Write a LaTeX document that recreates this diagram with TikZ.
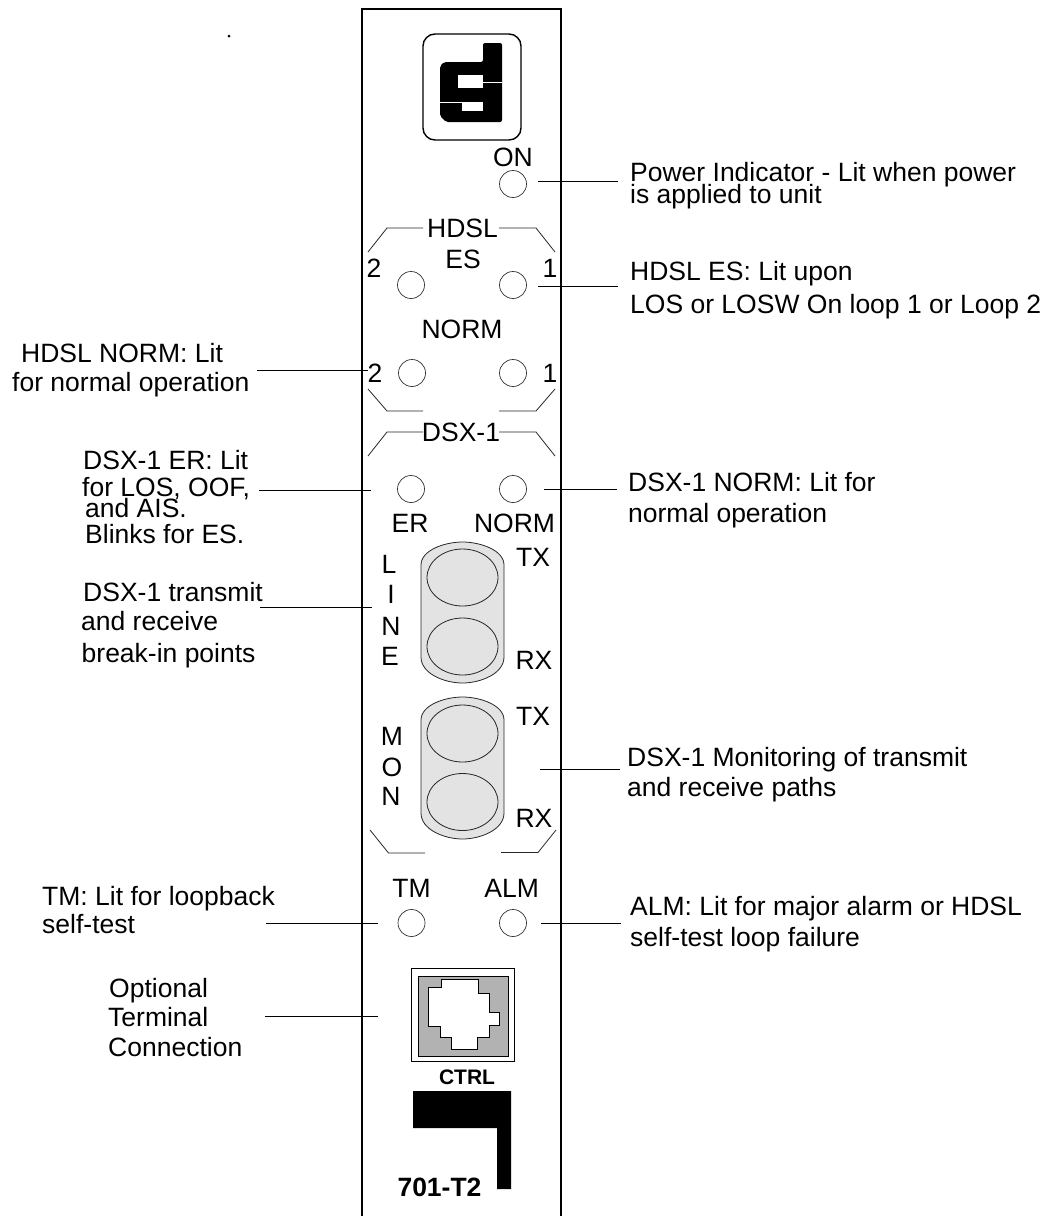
\documentclass[tikz,border=0pt]{standalone}
\usepackage{fontspec}
\setmainfont{Liberation Sans}
\usetikzlibrary{shapes.geometric}
\definecolor{jackfill}{gray}{0.89}
\definecolor{portfill}{gray}{0.7}
\tikzset{
  lbl/.style={inner sep=0pt,anchor=base west,font=\fontsize{26.5}{26.5}\selectfont},
  plab/.style={inner sep=0pt,anchor=base,font=\fontsize{26.5}{26.5}\selectfont},
  led/.style={circle,draw=black!80,line width=0.7pt,minimum size=27pt,inner sep=0pt},
  jackhole/.style={ellipse,draw=black!85,line width=0.8pt,fill=jackfill,minimum width=71pt,minimum height=57pt,inner sep=0pt},
  jackbody/.style={line width=0.8pt,draw=black!85,fill=jackfill},
  lead/.style={line width=1pt,black},
  brk/.style={line width=0.8pt,black!85},
  panel/.style={line width=1.2pt,black}
}
\begin{document}
\begin{tikzpicture}[x=1pt,y=-1pt]
\useasboundingbox (0,0) rectangle (1048,1216);
\fill[black] (229,36) circle (1.5pt);
\draw[panel] (362,1216) -- (362,9) -- (561,9) -- (561,1216);
% logo
\draw[line width=1.4pt,rounded corners=12pt] (423,34) rectangle (521,140);
\fill[black,rounded corners=2pt] (483,43) -- (502,43) -- (502,122) -- (446,122) -- (440,116) -- (440,66) -- (444,62) -- (483,62) -- cycle;
\fill[white] (458,75) rectangle (483,88);
\fill[white] (483,81.5) rectangle (502,82.5);
\fill[white] (462,102) rectangle (483,111);
\fill[white] (440,101.8) rectangle (462,103);
% LEDs
\node[led] (on) at (513,184) {};
\node[led] (es2) at (411,285) {};
\node[led] (es1) at (513,285) {};
\node[led] (n2) at (412,373) {};
\node[led] (n1) at (513,373) {};
\node[led] (der) at (411,489) {};
\node[led] (dn) at (513,489) {};
\node[led] (tm) at (411.5,923) {};
\node[led] (alm) at (513,923) {};
% jacks
\draw[jackbody] (421,565) .. controls (421,550) and (445,542) .. (462.5,542) .. controls (480,542) and (504,550) .. (504,565) -- (504,657) .. controls (504,674) and (480,683) .. (462.5,683) .. controls (445,683) and (421,674) .. (421,657) -- cycle;
\node[jackhole] (lt) at (462.5,577.5) {};
\node[jackhole] (lr) at (462.5,646.5) {};
\draw[jackbody] (421,720) .. controls (421,705) and (445,697) .. (462.5,697) .. controls (480,697) and (504,705) .. (504,720) -- (504,813) .. controls (504,830) and (480,839) .. (462.5,839) .. controls (445,839) and (421,830) .. (421,813) -- cycle;
\node[jackhole] (mt) at (462.5,733.5) {};
\node[jackhole] (mr) at (462.5,802) {};
% panel labels
\node[plab] (pon) at (513,166) {ON};
\node[plab] (phd) at (462.5,237) {HDSL};
\node[plab] (pes) at (463,268) {ES};
\node[plab] (p2a) at (374,277) {2};
\node[plab] (p1a) at (550,277) {1};
\node[plab] (pno) at (462,338) {NORM};
\node[plab] (p2b) at (375,382) {2};
\node[plab] (p1b) at (550,382) {1};
\node[plab] (pds) at (461,441) {DSX-1};
\node[plab] (per) at (410,532) {ER};
\node[plab] (pnn) at (514.5,532) {NORM};
\node[plab] (pL) at (389,573) {L};
\node[plab] (pI) at (391,603) {I};
\node[plab] (pN) at (391,635) {N};
\node[plab] (pE) at (390,665) {E};
\node[plab] (ptx1) at (533,566) {TX};
\node[plab] (prx1) at (534,669) {RX};
\node[plab] (pM) at (392,745) {M};
\node[plab] (pO) at (392,776) {O};
\node[plab] (pNb) at (391,805) {N};
\node[plab] (ptx2) at (533,725) {TX};
\node[plab] (prx2) at (534,827) {RX};
\node[plab] (ptm) at (411.5,897) {TM};
\node[plab] (pal) at (511.7,897) {ALM};
% brackets
\draw[brk] (368,252) -- (387,228) -- (423,228);
\draw[brk] (499,228) -- (536,228) -- (555,252);
\draw[brk] (368,389) -- (387,411) -- (423,411);
\draw[brk] (499,411) -- (536,411) -- (555,389);
\draw[brk] (368,456) -- (387,432) -- (423,432);
\draw[brk] (499,432) -- (536,432) -- (555,456);
\draw[brk] (370,830) -- (388.5,853) -- (425,853);
\draw[brk] (501,852.5) -- (538,852.5) -- (556,830);
% port
\draw[line width=1pt] (411,968) rectangle (514,1061);
\draw[line width=0.8pt,fill=portfill] (418,976) rectangle (508,1056);
\draw[line width=0.9pt,fill=white] (428,987) -- (441,987) -- (441,979) -- (478,979) -- (478,993) -- (489,993) -- (489,1012) -- (499,1012) -- (499,1025) -- (489,1025) -- (489,1037) -- (477,1037) -- (477,1049) -- (451,1049) -- (451,1037) -- (440,1037) -- (440,1026) -- (428,1026) -- cycle;
\node[inner sep=0pt,anchor=base,font=\bfseries\fontsize{21}{21}\selectfont] (ctrl) at (467,1084) {CTRL};
\fill[black] (413,1091) -- (511,1091) -- (511,1189) -- (497,1189) -- (497,1128) -- (413,1128) -- cycle;
\node[inner sep=0pt,anchor=base,font=\bfseries\fontsize{26.5}{26.5}\selectfont] (model) at (439.5,1196) {701-T2};
% callouts
\coordinate (c1) at (538,181);
\coordinate (c1e) at (618,181);
\draw[lead] (c1) -- (c1e);
\node[lbl] (t1a) at (630,181) {Power Indicator - Lit when power};
\node[lbl] (t1b) at (630,203) {is applied to unit};
\coordinate (c2) at (538,286);
\coordinate (c2e) at (618,286);
\draw[lead] (c2) -- (c2e);
\node[lbl] (t2a) at (630,280) {HDSL ES: Lit upon};
\node[lbl] (t2b) at (630,313) {LOS or LOSW On loop 1 or Loop 2};
\coordinate (c3) at (257,370);
\coordinate (c3e) at (368,370);
\draw[lead] (c3) -- (c3e);
\node[lbl] (t3a) at (21,362) {HDSL NORM: Lit};
\node[lbl] (t3b) at (12,391) {for normal operation};
\coordinate (c4) at (259,490);
\coordinate (c4e) at (371,490);
\draw[lead] (c4) -- (c4e);
\node[lbl] (t4a) at (83,469) {DSX-1 ER: Lit};
\node[lbl] (t4b) at (82,496) {for LOS, OOF,};
\node[lbl] (t4c) at (85,517) {and AIS.};
\node[lbl] (t4d) at (85,543) {Blinks for ES.};
\coordinate (c5) at (544,489);
\coordinate (c5e) at (617,489);
\draw[lead] (c5) -- (c5e);
\node[lbl] (t5a) at (628,491) {DSX-1 NORM: Lit for};
\node[lbl] (t5b) at (628,522) {normal operation};
\coordinate (c6) at (260,607);
\coordinate (c6e) at (372,607);
\draw[lead] (c6) -- (c6e);
\node[lbl] (t6a) at (83,601) {DSX-1 transmit};
\node[lbl] (t6b) at (81,630) {and receive};
\node[lbl] (t6c) at (81.5,662) {break-in points};
\coordinate (c7) at (540,769);
\coordinate (c7e) at (620,769);
\draw[lead] (c7) -- (c7e);
\node[lbl] (t7a) at (627,766) {DSX-1 Monitoring of transmit};
\node[lbl] (t7b) at (627,796) {and receive paths};
\coordinate (c8) at (266,923);
\coordinate (c8e) at (378,923);
\draw[lead] (c8) -- (c8e);
\node[lbl] (t8a) at (42,905) {TM: Lit for loopback};
\node[lbl] (t8b) at (42,933) {self-test};
\coordinate (c9) at (541,923);
\coordinate (c9e) at (621,923);
\draw[lead] (c9) -- (c9e);
\node[lbl] (t9a) at (630,915) {ALM: Lit for major alarm or HDSL};
\node[lbl] (t9b) at (630,946) {self-test loop failure};
\coordinate (c10) at (265,1016);
\coordinate (c10e) at (378,1016);
\draw[lead] (c10) -- (c10e);
\node[lbl] (t10a) at (109,997) {Optional};
\node[lbl] (t10b) at (108,1026) {Terminal};
\node[lbl] (t10c) at (108,1056) {Connection};
\end{tikzpicture}
\end{document}
